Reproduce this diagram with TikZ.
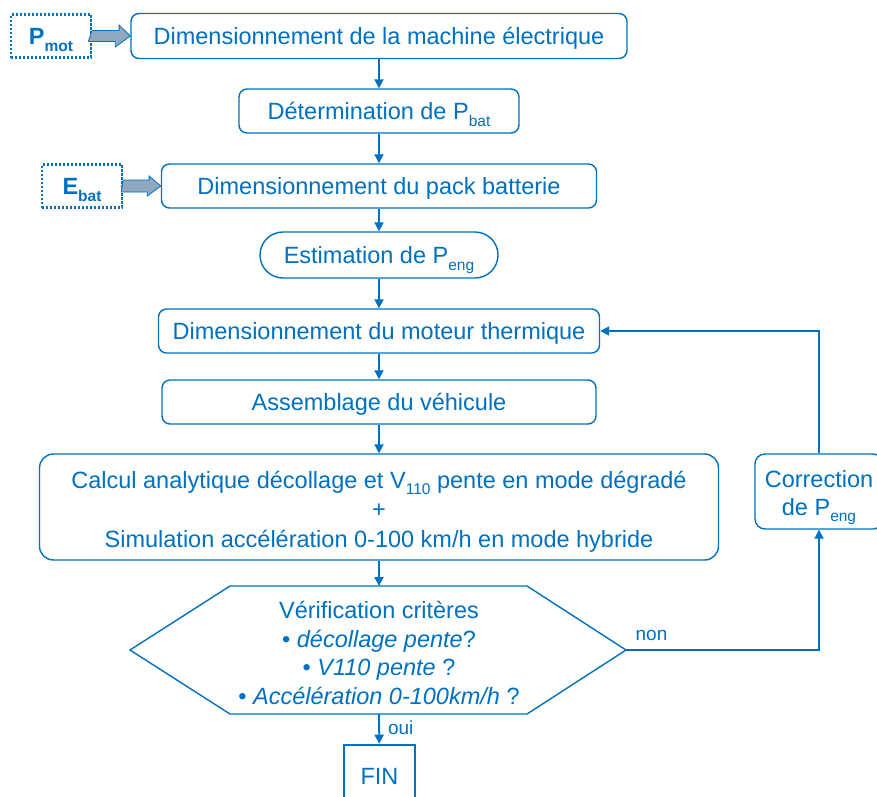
\documentclass[tikz,border=0pt]{standalone}
\usepackage{fontspec}
\setmainfont{Liberation Sans}
\usetikzlibrary{arrows.meta}

\definecolor{flowblue}{RGB}{0,112,192}
\definecolor{arrowgray}{RGB}{143,168,192}

% subscript as in the slides
\newcommand{\idx}[1]{\raisebox{-6.5pt}{\fontsize{15.5}{15.5}\selectfont #1}}
\newcommand{\mainsize}{\fontsize{23.5}{28.5}\selectfont}

\tikzset{
  box/.style={draw=flowblue, line width=1.4pt, rounded corners=8pt, text=flowblue,
    align=center, inner sep=0pt, font=\mainsize},
  oneline/.style={text height=17pt, text depth=0pt},
  inbox/.style={draw=flowblue, line width=2.2pt, dash pattern=on 2.2pt off 1.8pt,
    text=flowblue, inner sep=0pt, minimum width=80pt, minimum height=43pt,
    font=\mainsize\bfseries, oneline},
  finbox/.style={draw=flowblue, line width=2.6pt, text=flowblue, inner sep=0pt, font=\mainsize, oneline},
  outline/.style={draw=flowblue, line width=1.4pt, line join=miter},
  flow/.style={draw=flowblue, line width=1.8pt, -{Triangle[length=9pt,width=9pt]}},
  fatarrow/.style={draw=flowblue, line width=0.8pt, fill=arrowgray},
  lbl/.style={text=flowblue, inner sep=2pt, font=\fontsize{19}{22}\selectfont}
}

\begin{document}
\begin{tikzpicture}[x=1pt, y=-1pt]

\useasboundingbox (0,0) rectangle (877,796);

% Inputs
\node[inbox] (pmot) at (51,36) {P\idx{mot}};
\node[inbox] (ebat) at (82,186) {E\idx{bat}};

% Main chain
\node[box, oneline, minimum width=496pt, minimum height=45pt] (machine) at (379,36) {Dimensionnement de la machine électrique};
\node[box, oneline, minimum width=280pt, minimum height=44pt] (pbat) at (379,111) {Détermination de P\idx{bat}};
\node[box, oneline, minimum width=435pt, minimum height=44pt] (pack) at (379,186) {Dimensionnement du pack batterie};
\node[box, oneline, rounded corners=23pt, minimum width=238pt, minimum height=46pt] (estim) at (379,255) {Estimation de P\idx{eng}};
\node[box, oneline, minimum width=441pt, minimum height=44pt] (moteur) at (379,331) {Dimensionnement du moteur thermique};
\node[box, oneline, minimum width=434pt, minimum height=44pt] (assem) at (379,402) {Assemblage du véhicule};
\node[box, rounded corners=14pt, minimum width=679pt, minimum height=106pt,
  text height=82pt, text depth=2pt, font=\fontsize{23.5}{29.5}\selectfont] (calcul) at (379,507)
  {Calcul analytique décollage et V\idx{110} pente en mode dégradé\\+\\Simulation accélération 0-100 km/h en mode hybride};

% Check (hexagon)
\coordinate (vleft) at (130,650);
\coordinate (vright) at (626,650);
\coordinate (vtop) at (379,586);
\coordinate (vbot) at (379,714);
\draw[outline] (vleft) -- (230,586) -- (527,586) -- (vright) -- (527,714) -- (230,714) -- cycle;
\node[text=flowblue, align=center, inner sep=0pt, font=\mainsize] (verif) at (379,653)
  {Vérification critères\\• \textit{décollage pente}?\\• \textit{V110 pente} ?\\• \textit{Accélération 0-100km/h} ?};

% End and correction
\node[finbox, minimum width=71pt, minimum height=62pt] (fin) at (379.5,776) {FIN};
\node[box, rounded corners=10pt, minimum width=128pt, minimum height=75pt,
  text height=49pt, text depth=2pt, font=\fontsize{23.5}{28}\selectfont] (correc) at (819,491.5) {Correction\\de P\idx{eng}};

% Fat input arrows
\draw[fatarrow] (pmot.east) ++(0,-5.5) -- ++(27,0) -- ++(0,-5.5) -- (machine.west)
  -- ++(-15,11) -- ++(0,-5.5) -- ++(-27,0) -- cycle;
\draw[fatarrow] (ebat.east) ++(0,-6) -- ++(26,0) -- ++(0,-4) -- (pack.west)
  -- ++(-13.5,10) -- ++(0,-4) -- ++(-26,0) -- cycle;

% Flow
\draw[flow] (machine) -- (pbat);
\draw[flow] (pbat) -- (pack);
\draw[flow] (pack) -- (estim);
\draw[flow] (estim) -- (moteur);
\draw[flow] (moteur) -- (assem);
\draw[flow] (assem) -- (calcul);
\draw[flow] (calcul.south) -- (vtop);
\draw[flow] (vbot) -- node[lbl, right, xshift=6pt, yshift=1pt] {oui} (fin);

% Loop back
\draw[flow] (vright) -| node[lbl, pos=0.066, above, yshift=6pt] {non} (correc.south);
\draw[flow] (correc.north) |- (moteur.east);

\end{tikzpicture}
\end{document}
